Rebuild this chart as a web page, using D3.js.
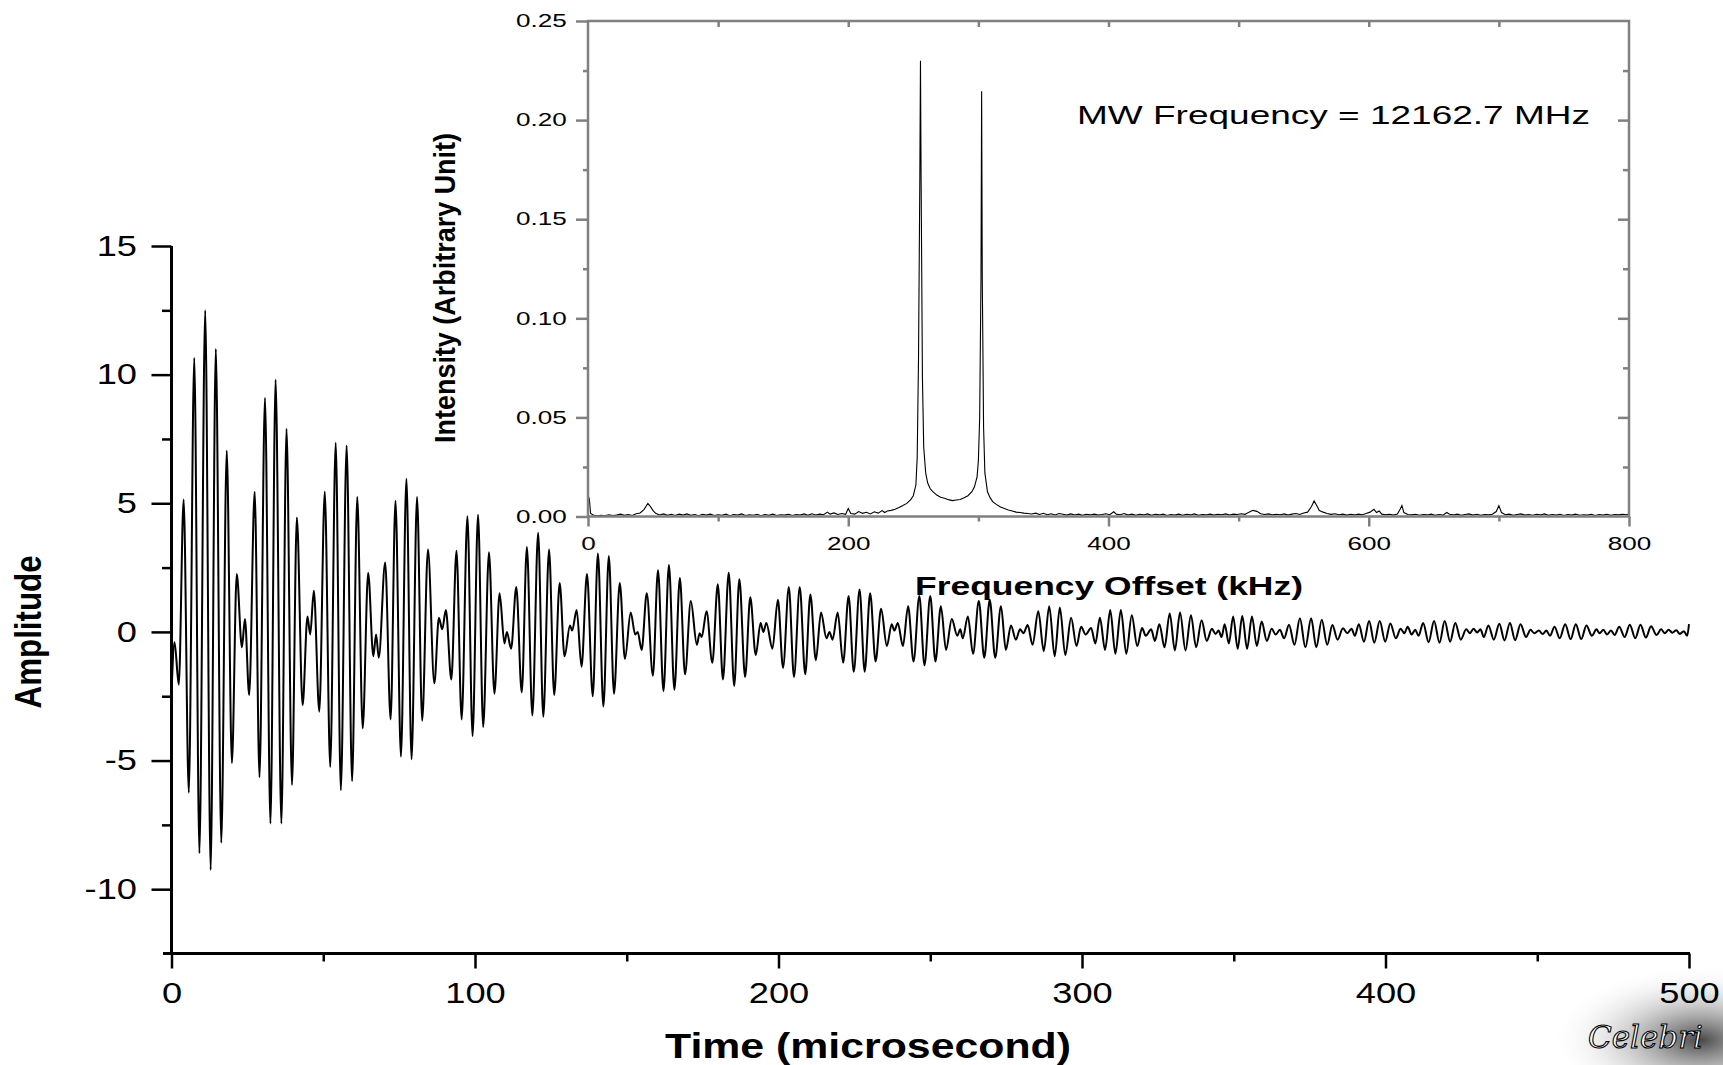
<!DOCTYPE html>
<html>
<head>
<meta charset="utf-8">
<script src="https://cdn.jsdelivr.net/npm/d3@7"></script>
<style>
html, body { margin: 0; padding: 0; background: #fff; overflow: hidden; }
svg { display: block; font-family: "Liberation Sans", Arial, sans-serif; }
</style>
</head>
<body>
<div id="chart"></div>
<script>
// Free induction decay: extrema, [time (us), amplitude]
var fidPoints = [
  [0,-2.4],[1.0,-0.4],[2.4,-2.05],[4.0,5.15],[5.7,-6.25],[7.5,10.65],[9.2,-8.6],[11.1,12.5],[12.9,-9.25],[14.6,11.0],
  [16.4,-8.2],[18.2,7.05],[19.9,-5.1],[21.5,2.25],[23.2,-0.6],[24.2,0.5],[25.6,-2.45],[27.4,5.45],[29.0,-5.65],[30.8,9.1],
  [32.6,-7.45],[34.3,9.8],[36.2,-7.45],[37.9,7.9],[39.7,-5.95],[41.3,4.45],[43.2,-2.85],[44.8,0.6],[45.7,-0.1],[46.9,1.6],
  [48.7,-3.1],[50.5,5.45],[52.3,-5.25],[54.1,7.35],[55.8,-6.15],[57.7,7.25],[59.5,-5.8],[61.2,5.25],[63.0,-3.75],[64.8,2.3],
  [66.5,-0.95],[67.4,-0.1],[68.3,-1.0],[70.4,2.7],[72.2,-3.4],[73.8,5.1],[75.6,-4.85],[77.4,5.95],[79.1,-4.95],[80.9,5.25],
  [82.6,-3.45],[84.5,3.2],[86.6,-2.0],[88.1,0.55],[89.2,0.1],[90.4,0.85],[92.2,-1.85],[93.9,3.15],[95.6,-3.4],[97.5,4.5],
  [99.2,-4.05],[101.0,4.55],[102.7,-3.7],[104.6,3.1],[106.4,-2.4],[108.1,1.5],[109.7,-0.45],[110.5,0.0],[111.9,-0.65],[113.6,1.75],
  [115.4,-2.35],[117.1,3.3],[118.9,-3.25],[120.8,3.85],[122.5,-3.3],[124.4,3.2],[126.1,-2.45],[127.9,1.9],[129.5,-0.95],[131.3,0.25],
  [132.0,0.05],[133.5,0.85],[135.1,-1.35],[136.9,2.25],[138.8,-2.5],[140.5,3.05],[142.3,-2.9],[144.1,2.95],[145.8,-2.4],[147.7,1.9],
  [149.4,-1.05],[151.3,0.75],[152.8,-0.1],[153.6,0.0],[154.9,-0.7],[156.6,1.5],[158.6,-1.7],[160.3,2.4],[162.1,-2.3],[163.9,2.6],
  [165.7,-2.25],[167.5,2.1],[169.2,-1.65],[171.1,1.2],[173.1,-0.5],[174.0,-0.05],[174.7,-0.2],[176.3,0.8],[178.2,-1.2],[180.0,1.85],
  [181.7,-1.85],[183.6,2.3],[185.4,-2.1],[187.1,2.05],[189.0,-1.75],[190.7,1.35],[192.5,-0.9],[194.1,0.35],[195.0,0.0],[196.0,0.35],
  [198.0,-0.65],[199.8,1.25],[201.5,-1.4],[203.4,1.75],[205.1,-1.75],[207.0,1.75],[208.8,-1.65],[210.5,1.45],[212.3,-1.1],[214.0,0.75],
  [215.8,-0.25],[216.8,0.0],[217.8,-0.3],[219.5,0.75],[221.3,-1.2],[223.1,1.4],[224.8,-1.55],[226.7,1.65],[228.4,-1.55],[230.2,1.5],
  [232.0,-1.15],[233.8,0.9],[235.7,-0.55],[237.3,0.3],[238.2,0.05],[239.3,0.35],[241.0,-0.55],[242.7,1.0],[244.5,-1.15],[246.4,1.4],
  [248.1,-1.3],[250.0,1.4],[251.7,-1.15],[253.5,1.0],[255.2,-0.7],[257.1,0.5],[258.9,-0.15],[259.9,0.1],[260.7,-0.25],[262.4,0.6],
  [264.1,-0.85],[266.0,1.2],[267.8,-1.0],[269.6,1.25],[271.4,-1.0],[273.3,1.0],[274.9,-0.7],[276.6,0.25],[278.2,-0.3],[279.6,0.1],
  [280.7,-0.05],[282.1,0.27],[283.7,-0.5],[285.6,0.8],[287.4,-0.75],[289.2,1.0],[291.0,-0.95],[292.7,0.95],[294.5,-0.9],[296.4,0.55],
  [298.2,-0.55],[299.7,0.2],[301.2,-0.1],[303.0,0.15],[304.4,-0.45],[305.9,0.55],[307.6,-0.7],[309.3,0.85],[311.0,-0.85],[312.8,0.85],
  [314.6,-0.85],[316.4,0.65],[318.2,-0.55],[319.8,0.15],[321.0,-0.15],[322.8,0.1],[324.0,-0.35],[325.5,0.3],[327.2,-0.6],[328.9,0.72],
  [330.6,-0.72],[332.3,0.75],[334.1,-0.72],[335.9,0.65],[337.6,-0.6],[339.4,0.45],[341.1,-0.35],[342.8,0.12],[344.0,-0.08],[345.0,0.05],
  [346.0,-0.2],[347.0,0.3],[348.4,-0.45],[349.8,0.6],[351.3,-0.65],[352.8,0.62],[354.4,-0.65],[356.0,0.6],[357.6,-0.55],[359.2,0.4],
  [360.9,-0.35],[362.5,0.12],[363.8,-0.1],[365.2,0.08],[366.6,-0.25],[368.2,0.28],[370.0,-0.5],[371.8,0.53],[373.6,-0.6],[375.5,0.53],
  [377.2,-0.6],[379.0,0.47],[380.8,-0.5],[382.5,0.27],[384.2,-0.3],[386.0,0.14],[387.4,-0.05],[388.8,0.12],[389.9,-0.15],[391.2,0.3],
  [392.9,-0.38],[394.6,0.42],[396.3,-0.42],[398.1,0.42],[399.9,-0.38],[401.6,0.33],[403.4,-0.25],[405.0,0.12],[406.2,-0.05],[407.3,0.2],
  [408.6,-0.1],[409.8,0.08],[410.9,-0.15],[412.4,0.35],[414.2,-0.4],[416.0,0.42],[417.8,-0.42],[419.5,0.42],[421.3,-0.38],[423.0,0.35],
  [424.8,-0.3],[426.6,0.1],[427.8,-0.05],[429.0,0.12],[430.2,-0.02],[431.3,0.1],[432.4,-0.2],[433.9,0.25],[435.7,-0.3],[437.5,0.32],
  [439.2,-0.33],[441.0,0.35],[442.7,-0.32],[444.5,0.3],[446.3,-0.2],[447.8,0.08],[449.0,-0.05],[450.5,0.05],[451.8,-0.08],[453.0,0.05],
  [454.2,-0.15],[455.7,0.2],[457.4,-0.25],[459.2,0.3],[461.0,-0.28],[462.7,0.3],[464.5,-0.28],[466.2,0.25],[468.0,-0.15],[469.5,0.1],
  [470.5,-0.05],[471.8,0.08],[473.0,-0.1],[474.3,0.05],[475.5,-0.12],[477.0,0.2],[478.8,-0.2],[480.5,0.28],[482.3,-0.25],[484.0,0.28],
  [485.8,-0.22],[487.5,0.22],[489.3,-0.12],[490.8,0.1],[492.0,-0.05],[493.3,0.08],[494.5,-0.03],[495.8,0.06],[497.0,-0.08],[498.3,0.03],
  [499.4,-0.15],[500,0.3]
];

// FFT spectrum, [frequency offset (kHz), intensity]
var spectrum = [
  [0,0.0105],[1,0.009],[2,0.0015],[4,0.0008],[7,0.0003],[10,0.0006],[13,0.0004],[16,0.0009],[19,0.0005],[22,0.0007],
  [25,0.0012],[28,0.0006],[31,0.0010],[34,0.0005],[37,0.0014],[40,0.0018],[43,0.0035],[46,0.0066],[48,0.0050],[50,0.0030],
  [52,0.0016],[55,0.0008],[58,0.0013],[61,0.0006],[64,0.0011],[67,0.0005],[70,0.0012],[73,0.0007],[76,0.0013],[79,0.0006],
  [82,0.0010],[85,0.0004],[88,0.0011],[91,0.0007],[94,0.0012],[97,0.0005],[100,0.0009],[103,0.0006],[106,0.0012],[109,0.0004],
  [112,0.0010],[115,0.0007],[118,0.0013],[121,0.0005],[124,0.0009],[127,0.0006],[130,0.0011],[133,0.0004],[136,0.0010],[139,0.0006],
  [142,0.0012],[145,0.0005],[148,0.0009],[151,0.0007],[154,0.0011],[157,0.0005],[160,0.0010],[163,0.0007],[166,0.0013],[169,0.0006],
  [172,0.0014],[175,0.0008],[178,0.0012],[181,0.0009],[184,0.0022],[186,0.0012],[189,0.0018],[192,0.0010],[195,0.0015],[198,0.0011],
  [200,0.0040],[202,0.0015],[205,0.0012],[208,0.0025],[211,0.0016],[214,0.0021],[217,0.0013],[220,0.0024],[223,0.0017],[226,0.0030],
  [228,0.0020],[230,0.0028],[233,0.0031],[236,0.0037],[239,0.0045],[242,0.0055],[245,0.0066],[248,0.0085],[250,0.0105],[252,0.016],
  [253,0.03],[254,0.08],[255,0.17],[255.5,0.230],[256,0.17],[257,0.07],[258,0.035],[259.5,0.022],[261,0.017],[263,0.014],
  [265,0.0125],[268,0.0108],[271,0.0097],[274,0.0092],[277,0.0085],[280,0.0080],[283,0.0083],[286,0.0086],[289,0.0095],[292,0.0105],
  [295,0.0125],[297,0.0150],[299,0.0200],[300,0.028],[301,0.05],[302,0.12],[302.5,0.2146],[303,0.12],[304,0.045],[305,0.022],
  [307,0.0125],[309,0.0095],[311,0.0075],[314,0.0060],[317,0.0048],[320,0.0040],[323,0.0033],[326,0.0028],[329,0.0022],[332,0.0020],
  [335,0.0017],[338,0.0015],[341,0.0013],[344,0.0017],[347,0.0010],[350,0.0016],[353,0.0009],[356,0.0014],[359,0.0008],[362,0.0015],
  [365,0.0011],[368,0.0007],[371,0.0013],[374,0.0008],[377,0.0012],[380,0.0006],[383,0.0011],[386,0.0008],[389,0.0012],[392,0.0007],
  [395,0.0010],[398,0.0014],[401,0.0009],[404,0.0024],[406,0.0012],[409,0.0009],[412,0.0015],[415,0.0007],[418,0.0012],[421,0.0006],
  [424,0.0011],[427,0.0008],[430,0.0013],[433,0.0006],[436,0.0011],[439,0.0008],[442,0.0012],[445,0.0005],[448,0.0010],[451,0.0007],
  [454,0.0012],[457,0.0006],[460,0.0011],[463,0.0008],[466,0.0013],[469,0.0006],[472,0.0010],[475,0.0008],[478,0.0012],[481,0.0007],
  [484,0.0011],[487,0.0009],[490,0.0013],[493,0.0008],[496,0.0012],[499,0.0010],[502,0.0014],[505,0.0011],[508,0.0022],[511,0.0031],
  [514,0.0026],[517,0.0014],[520,0.0010],[523,0.0013],[526,0.0008],[529,0.0011],[532,0.0009],[535,0.0013],[538,0.0007],[541,0.0012],
  [544,0.0015],[547,0.0010],[550,0.0018],[553,0.0022],[556,0.0050],[558,0.0078],[560,0.0055],[562,0.0030],[565,0.0022],[568,0.0015],
  [571,0.0011],[574,0.0014],[577,0.0009],[580,0.0012],[583,0.0007],[586,0.0011],[589,0.0008],[592,0.0012],[595,0.0009],[598,0.0015],
  [601,0.0022],[604,0.0036],[606,0.0020],[608,0.0028],[610,0.0012],[613,0.0009],[616,0.0011],[619,0.0007],[622,0.0012],[624,0.0035],
  [625.5,0.0055],[627,0.0020],[630,0.0010],[633,0.0008],[636,0.0011],[639,0.0006],[642,0.0010],[645,0.0008],[648,0.0012],[651,0.0006],
  [654,0.0010],[657,0.0007],[660,0.0020],[662,0.0011],[665,0.0008],[668,0.0012],[671,0.0006],[674,0.0010],[677,0.0013],[680,0.0007],
  [683,0.0011],[686,0.0006],[689,0.0010],[692,0.0008],[695,0.0011],[698,0.0025],[700,0.0055],[702,0.0020],[705,0.0009],[708,0.0012],
  [711,0.0006],[714,0.0010],[717,0.0013],[720,0.0007],[723,0.0010],[726,0.0006],[729,0.0011],[732,0.0008],[735,0.0013],[738,0.0006],
  [741,0.0010],[744,0.0007],[747,0.0011],[750,0.0005],[753,0.0010],[756,0.0007],[759,0.0012],[762,0.0006],[765,0.0009],[768,0.0007],
  [771,0.0011],[774,0.0005],[777,0.0010],[780,0.0007],[783,0.0011],[786,0.0006],[789,0.0010],[792,0.0008],[795,0.0011],[798,0.0009],
  [800,0.0013]
];

// tick values
var timeTicks = [0, 100, 200, 300, 400, 500];
var timeMinor = [50, 150, 250, 350, 450];
var ampTicks = [-10, -5, 0, 5, 10, 15];
var ampMinor = [-7.5, -2.5, 2.5, 7.5, 12.5];
var freqTicks = [0, 200, 400, 600, 800];
var freqMinor = [100, 300, 500, 700];
var freqTop = [100, 200, 300, 400, 500, 600, 700];
var intTicks = [0, 0.05, 0.10, 0.15, 0.20, 0.25];
var intMinor = [0.025, 0.075, 0.125, 0.175, 0.225];

var width = 1723, height = 1065;
var grey = "#808080";

var svg = d3.select("#chart")
    .append("svg")
    .attr("width", width)
    .attr("height", height);

// scales
var x = d3.scaleLinear().domain([0, 500]).range([171.5, 1689]);
var y = d3.scaleLinear().domain([-12.5, 15]).range([953.5, 246]);
var fx = d3.scaleLinear().domain([0, 800]).range([588, 1629]);
var fy = d3.scaleLinear().domain([0, 0.25]).range([516.5, 21]);

// watermark in the corner
var defs = svg.append("defs");
var rg = defs.append("radialGradient").attr("id", "wm");
rg.append("stop").attr("offset", "0%").attr("stop-color", "#333").attr("stop-opacity", 0.9);
rg.append("stop").attr("offset", "100%").attr("stop-color", "#fff").attr("stop-opacity", 0);
svg.append("ellipse")
    .attr("cx", 1700).attr("cy", 1040).attr("rx", 150).attr("ry", 75)
    .attr("fill", "url(#wm)");
svg.append("text")
    .attr("x", 1588).attr("y", 1048)
    .style("font-family", "'DejaVu Serif', serif")
    .style("font-style", "italic")
    .style("font-size", "31px")
    .attr("fill", "#fff").attr("stroke", "#000").attr("stroke-width", 1.1)
    .text("Celebri");

// helper: draw ticks of an axis and style them
function drawAxis(g, axis, color, sw, fontSize, sx, textX) {
    g.call(axis);
    g.select(".domain").remove();
    g.selectAll(".tick line").attr("stroke", color).attr("stroke-width", sw);
    var t = g.selectAll(".tick text")
        .attr("fill", "#000")
        .style("font-size", fontSize + "px")
        .style("font-family", "'Liberation Sans', Arial, sans-serif")
        .attr("transform", "scale(" + sx + ",1)");
    if (textX !== undefined) t.attr("x", textX / sx);
    return g;
}

// ---- main FID plot ----
var line = d3.line()
    .x(function (d) { return x(d[0]); })
    .y(function (d) { return y(d[1]); })
    .curve(d3.curveMonotoneX);

svg.append("path")
    .datum(fidPoints)
    .attr("d", line)
    .attr("fill", "none")
    .attr("stroke", "#000")
    .attr("stroke-width", 2)
    .attr("stroke-linejoin", "round");

// x axis
var gx = svg.append("g").attr("transform", "translate(0," + y(-12.5) + ")");
drawAxis(gx.append("g"), d3.axisBottom(x).tickValues(timeTicks).tickSize(15).tickPadding(14)
    .tickFormat(function (d) { return String(d); }), "#000", 2.5, 29, 1.25);
drawAxis(gx.append("g"), d3.axisBottom(x).tickValues(timeMinor).tickSize(8).tickFormat(""), "#000", 2.5, 29, 1);
gx.append("line")
    .attr("x1", x(-2.8)).attr("x2", x(500) + 1)
    .attr("stroke", "#000").attr("stroke-width", 3.2);

// y axis
var gy = svg.append("g").attr("transform", "translate(" + x(0) + ",0)");
drawAxis(gy.append("g"), d3.axisLeft(y).tickValues(ampTicks).tickSize(20).tickPadding(14.5)
    .tickFormat(function (d) { return String(d); }), "#000", 2.5, 29, 1.25, -34.5);
drawAxis(gy.append("g"), d3.axisLeft(y).tickValues(ampMinor).tickSize(9.5).tickFormat(""), "#000", 2.5, 29, 1);
gy.append("line")
    .attr("y1", y(15)).attr("y2", y(-12.5))
    .attr("stroke", "#000").attr("stroke-width", 3);

// axis titles
svg.append("text")
    .attr("x", 665).attr("y", 1058)
    .attr("textLength", 406).attr("lengthAdjust", "spacingAndGlyphs")
    .style("font-size", "35px").style("font-weight", "bold")
    .text("Time (microsecond)");

svg.append("text")
    .attr("transform", "translate(41," + y(0) + ") rotate(-90)")
    .attr("text-anchor", "middle")
    .attr("textLength", 153).attr("lengthAdjust", "spacingAndGlyphs")
    .style("font-size", "36px").style("font-weight", "bold")
    .text("Amplitude");

// ---- inset spectrum ----
var sline = d3.line()
    .x(function (d) { return fx(d[0]); })
    .y(function (d) { return fy(d[1]); });

svg.append("path")
    .datum(spectrum)
    .attr("d", sline)
    .attr("fill", "none")
    .attr("stroke", "#000")
    .attr("stroke-width", 1.1);

// bottom
var ib = svg.append("g").attr("transform", "translate(0," + fy(0) + ")");
drawAxis(ib.append("g"), d3.axisBottom(fx).tickValues(freqTicks).tickSize(10).tickPadding(11)
    .tickFormat(function (d) { return String(d); }), grey, 2.5, 18, 1.45);
drawAxis(ib.append("g"), d3.axisBottom(fx).tickValues(freqMinor).tickSize(5).tickFormat(""), grey, 2.5, 18, 1);
// top (ticks point inward)
var it = svg.append("g").attr("transform", "translate(0," + fy(0.25) + ")");
drawAxis(it, d3.axisBottom(fx).tickValues(freqTop).tickSize(6).tickFormat(""), grey, 2.5, 18, 1);
// left
var il = svg.append("g").attr("transform", "translate(" + fx(0) + ",0)");
drawAxis(il.append("g"), d3.axisLeft(fy).tickValues(intTicks).tickSize(12).tickPadding(9.3)
    .tickFormat(d3.format(".2f")), grey, 2.5, 18, 1.45, -21.3);
drawAxis(il.append("g"), d3.axisLeft(fy).tickValues(intMinor).tickSize(5).tickFormat(""), grey, 2.5, 18, 1);
// right (ticks point inward)
var ir = svg.append("g").attr("transform", "translate(" + fx(800) + ",0)");
drawAxis(ir.append("g"), d3.axisLeft(fy).tickValues(intTicks.slice(1, 5)).tickSize(11).tickFormat(""), grey, 2.5, 18, 1);
drawAxis(ir.append("g"), d3.axisLeft(fy).tickValues(intMinor).tickSize(6).tickFormat(""), grey, 2.5, 18, 1);

// frame
svg.append("rect")
    .attr("x", fx(0)).attr("y", fy(0.25))
    .attr("width", fx(800) - fx(0)).attr("height", fy(0) - fy(0.25))
    .attr("fill", "none").attr("stroke", grey).attr("stroke-width", 2.5);

// inset titles and annotation
svg.append("text")
    .attr("x", 915).attr("y", 595)
    .attr("textLength", 388).attr("lengthAdjust", "spacingAndGlyphs")
    .style("font-size", "25px").style("font-weight", "bold")
    .text("Frequency Offset (kHz)");

svg.append("text")
    .attr("transform", "translate(455,288) rotate(-90)")
    .attr("text-anchor", "middle")
    .attr("textLength", 310).attr("lengthAdjust", "spacingAndGlyphs")
    .style("font-size", "30px").style("font-weight", "bold")
    .text("Intensity (Arbitrary Unit)");

svg.append("text")
    .attr("x", 1077).attr("y", 124)
    .attr("textLength", 513).attr("lengthAdjust", "spacingAndGlyphs")
    .style("font-size", "26px")
    .text("MW Frequency = 12162.7 MHz");
</script>
</body>
</html>
